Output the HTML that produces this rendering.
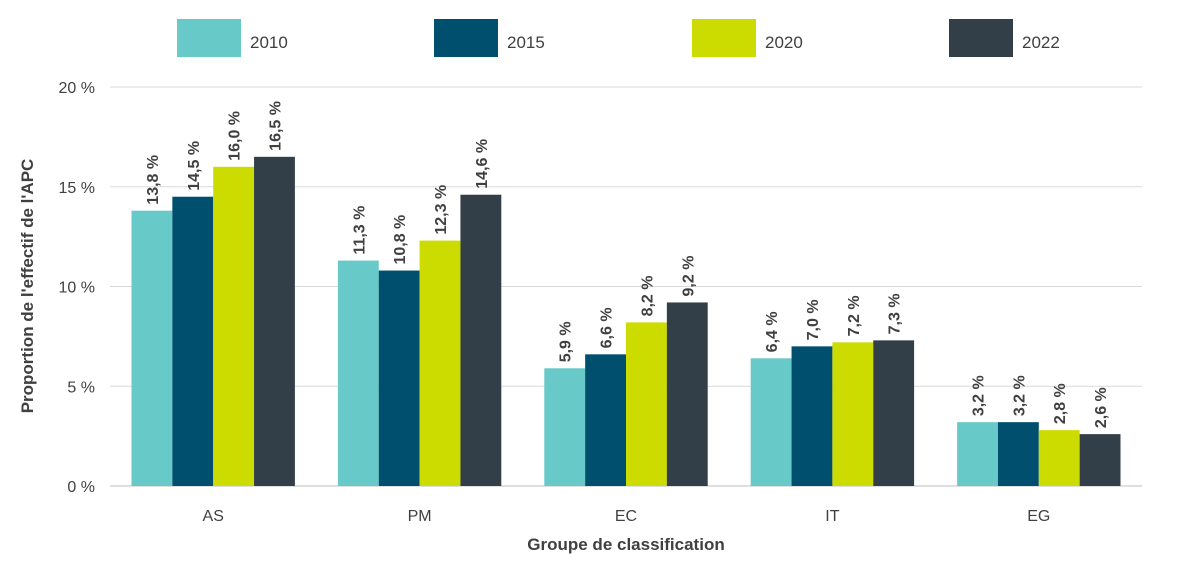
<!DOCTYPE html>
<html><head><meta charset="utf-8"><style>
body{margin:0;background:#fff;font-family:"Liberation Sans",sans-serif;}
svg{display:block}
</style></head><body>
<svg id="chart" width="1189" height="568"></svg>
<script>
const categories=["AS","PM","EC","IT","EG"];
const seriesNames=["2010","2015","2020","2022"];
const s2010=[13.8,11.3,5.9,6.4,3.2];
const s2015=[14.5,10.8,6.6,7.0,3.2];
const s2020=[16.0,12.3,8.2,7.2,2.8];
const s2022=[16.5,14.6,9.2,7.3,2.6];
const yTicks=[0,5,10,15,20];
const series=[s2010,s2015,s2020,s2022];
const colors=["#67c9c8","#004f6e","#cddc00","#323e48"];
const NS="http://www.w3.org/2000/svg";
const svg=document.getElementById("chart");
const X0=110,X1=1142,Y0=486,Y1=87;
const y=v=>Y0-(v/20)*(Y0-Y1);
const gw=(X1-X0)/categories.length, pad=21.5, bw=(gw-2*pad)/4;
function el(t,a,txt){const e=document.createElementNS(NS,t);for(const k in a)e.setAttribute(k,a[k]);if(txt!=null)e.textContent=txt;svg.appendChild(e);return e;}
const fmt=v=>v.toFixed(1).replace(".",",")+" %";
yTicks.forEach(t=>{
  const g=el("line",{x1:X0,x2:X1,y1:y(t),y2:y(t),stroke:t===0?"#bfbfbf":"#d9d9d9","stroke-width":1});
  
  
  const l=el("text",{x:95,y:y(t)+6,"text-anchor":"end","font-size":16,fill:"#404040"},t+" %");
  
  
});
categories.forEach((c,i)=>{
  const gx=X0+i*gw;
  series.forEach((s,j)=>{
    const bx=gx+pad+j*bw, v=s[i];
    const r=el("rect",{x:bx,y:y(v),width:bw,height:Y0-y(v),fill:colors[j]});
    
    
    const tx=bx+bw/2+6, ty=y(v)-6;
    const t=el("text",{x:tx,y:ty,transform:`rotate(-90 ${tx} ${ty})`,"font-size":16,"font-weight":"bold",fill:"#404040"},fmt(v));
    
    
  });
  const cl=el("text",{x:gx+gw/2,y:521,"text-anchor":"middle","font-size":16,fill:"#404040"},c);
  
  
});
const xt=el("text",{x:626,y:550,"text-anchor":"middle","font-size":17,"font-weight":"bold",fill:"#404040"},"Groupe de classification");


const yt=el("text",{x:33,y:286,transform:"rotate(-90 33 286)","text-anchor":"middle","font-size":17,"font-weight":"bold",fill:"#404040"},"Proportion de l'effectif de l'APC");


const lx=[177,434,692,949];
seriesNames.forEach((n,j)=>{
  const r=el("rect",{x:lx[j],y:19,width:64,height:38,fill:colors[j]});
  
  
  const t=el("text",{x:lx[j]+73,y:48,"font-size":17,fill:"#404040"},n);
  
  
});
</script>
</body></html>
